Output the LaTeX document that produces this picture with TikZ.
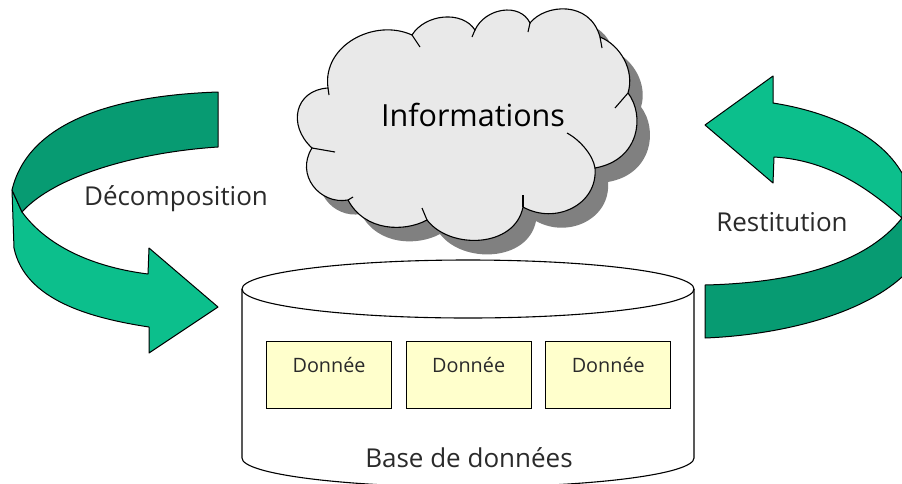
\documentclass[tikz,border=0pt]{standalone}
\usepackage{fontspec}
\setmainfont{Open Sans}
\usetikzlibrary{chains,positioning}
\definecolor{ribbondark}{HTML}{079B72}
\definecolor{ribbonlight}{HTML}{0CBF8C}
\definecolor{notefill}{HTML}{FFFFCC}
\definecolor{cloudfill}{HTML}{E9E9E9}
\definecolor{inkgray}{HTML}{2A2A2A}
\newcommand{\cloudoutline}{(328,88) .. controls (322,45) and (375,18) .. (412,35)
  .. controls (425,14) and (462,10) .. (475,30)
  .. controls (485,8) and (520,2) .. (530,23)
  .. controls (545,4) and (590,0) .. (600,37)
  .. controls (620,45) and (635,70) .. (628,93)
  .. controls (645,115) and (640,160) .. (595,168)
  .. controls (598,205) and (555,225) .. (523,207)
  .. controls (515,248) and (450,250) .. (427,220)
  .. controls (405,232) and (365,232) .. (348,200)
  .. controls (320,205) and (295,175) .. (312,148)
  .. controls (287,125) and (295,90) .. (328,88) -- cycle}

\begin{document}
\begin{tikzpicture}[x=1pt,y=-1pt,
    ribbon/.style={draw=black,line width=1pt,line join=round},
    edge/.style={draw=black,line width=1.1pt},
    caption/.style={text=inkgray,font=\fontsize{26}{26}\selectfont,inner sep=0pt},
    donnee/.style={
      draw=black,
      line width=1.1pt,
      fill=notefill,
      text=inkgray,
      font=\fontsize{19.8}{20}\selectfont,
      minimum width=125pt,
      inner xsep=0pt,
      inner ysep=0pt,
      text height=31pt,
      text depth=36pt,
      on chain
    },
    start chain,
    node distance=13.5pt
  ]
  \clip (0,0) rectangle (902,483);

  % cylinder
  \draw[edge] (242,289) -- (242,458) arc[start angle=180,end angle=0,x radius=226,y radius=29] -- (694,289);
  \draw[edge] (468,289) ellipse[x radius=226,y radius=29];
  \node[donnee,anchor=north west] (D1) at (266,341) {Donnée};
  \node[donnee] (D2) {Donnée};
  \node[donnee] (D3) {Donnée};
  \node[caption] (base) at (469,458) {Base de données};

  % cloud with its shadow
  \fill[black!50,xshift=13pt,yshift=-14pt] \cloudoutline;
  \draw[edge,fill=cloudfill] \cloudoutline;
  \draw[edge] (412,35) -- (420,47);
  \draw[edge] (475,30) -- (472,37);
  \draw[edge] (530,23) -- (528,32);
  \draw[edge] (600,37) -- (602,48);
  \draw[edge] (628,93) -- (615,108);
  \draw[edge] (595,168) .. controls (593,155) and (580,140) .. (567,133);
  \draw[edge] (523,207) -- (523,195);
  \draw[edge] (427,220) -- (422,208);
  \draw[edge] (348,200) -- (353,197);
  \draw[edge] (312,148) -- (335,152);
  \draw[edge] (328,88) -- (329,95);
  \node[text=black,font=\fontsize{30.5}{31}\selectfont,inner sep=0pt] (info) at (473,115) {Informations};

  % left ribbon
  \draw[ribbon,fill=ribbonlight] (12,190) -- (14,248) .. controls (25,300) and (90,318) .. (149,327)
    -- (149,353) -- (218,307) -- (149,248) -- (148,274)
    .. controls (100,268) and (50,250) .. (22,212) -- cycle;
  \draw[ribbon,fill=ribbondark] (218,92) .. controls (130,95) and (30,115) .. (12,190)
    -- (22,212) .. controls (55,175) and (140,152) .. (218,147) -- cycle;
  \node[caption] (split) at (176,199) {Décomposition};

  % right ribbon
  \draw[ribbon,fill=ribbonlight] (705,125) -- (773,76) -- (773,103)
    .. controls (830,112) and (880,135) .. (902,173) -- (902,218)
    .. controls (865,185) and (825,160) .. (774,157) -- (773,183) -- cycle;
  \draw[ribbon,fill=ribbondark] (705,285) .. controls (790,283) and (865,265) .. (902,218)
    -- (906,218) -- (906,272) -- (902,277)
    .. controls (860,315) and (780,335) .. (705,338) -- cycle;
  \node[caption] (back) at (782,222) {Restitution};
\end{tikzpicture}
\end{document}
